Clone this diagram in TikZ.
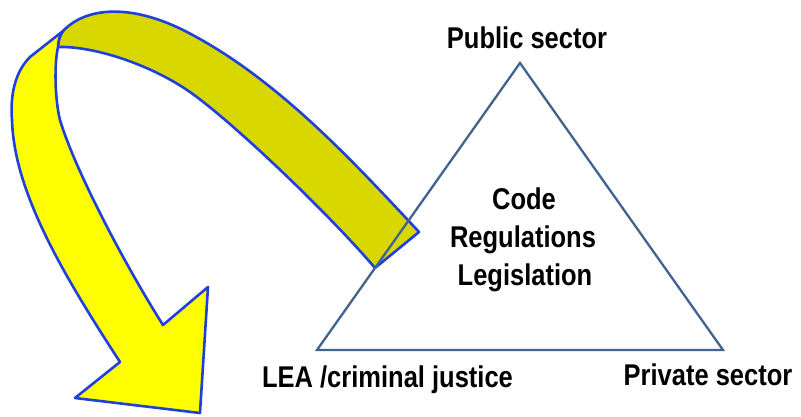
\documentclass[tikz,border=0pt]{standalone}
\usepackage{fontspec}
\setmainfont{Liberation Sans}
\definecolor{arrowline}{RGB}{32,64,220}
\definecolor{brightyellow}{RGB}{255,255,0}
\definecolor{darkyellow}{RGB}{216,216,0}
\definecolor{triline}{RGB}{65,100,143}
\newcommand{\nrw}[1]{\scalebox{0.85}[1]{#1}}
\tikzset{
  arrowpart/.style={draw=arrowline, line width=2.6pt, line join=round},
  lbl/.style={font=\fontsize{30}{36}\selectfont\bfseries, inner sep=0pt, anchor=base},
  tri/.style={draw=triline, line width=2.3pt, line join=miter}
}
\begin{document}
\begin{tikzpicture}[x=1pt,y=-1pt]
\useasboundingbox (0,0) rectangle (801,417);
% back (darker) band of the curved arrow
\draw[arrowpart, fill=darkyellow]
  (419,232) .. controls (351,159) and (276,78) .. (187,32)
  .. controls (135,5) and (88,5) .. (63,31)
  .. controls (60,35) and (58,41) .. (58,47)
  .. controls (95,46) and (150,65) .. (187,90)
  .. controls (230,119) and (330,215) .. (375,268)
  -- cycle;
% front (bright) band with head
\draw[arrowpart, fill=brightyellow]
  (63,31) -- (30,57)
  .. controls (15,72) and (10,95) .. (12,120)
  .. controls (14,190) and (60,270) .. (120,362)
  -- (75,398) -- (200,413) -- (208,287) -- (163,325)
  .. controls (125,265) and (75,170) .. (60,120)
  .. controls (55,100) and (54,65) .. (58,47)
  .. controls (58,41) and (60,35) .. (63,31) -- cycle;
% triangle
\coordinate (apex) at (520,63);
\coordinate (bl) at (317,350);
\coordinate (br) at (723,350);
\draw[tri] (apex) -- (bl) -- (br) -- cycle;
% labels
\node[lbl] (public) at (527,49) {\nrw{Public sector}};
\node[lbl] (code) at (524,209) {\nrw{Code}};
\node[lbl] (regs) at (523,247) {\nrw{Regulations}};
\node[lbl] (legis) at (525,285) {\nrw{Legislation}};
\node[lbl] (lea) at (387.5,387) {\nrw{LEA /criminal justice}};
\node[lbl] (private) at (708,385) {\nrw{Private sector}};
\end{tikzpicture}
\end{document}
